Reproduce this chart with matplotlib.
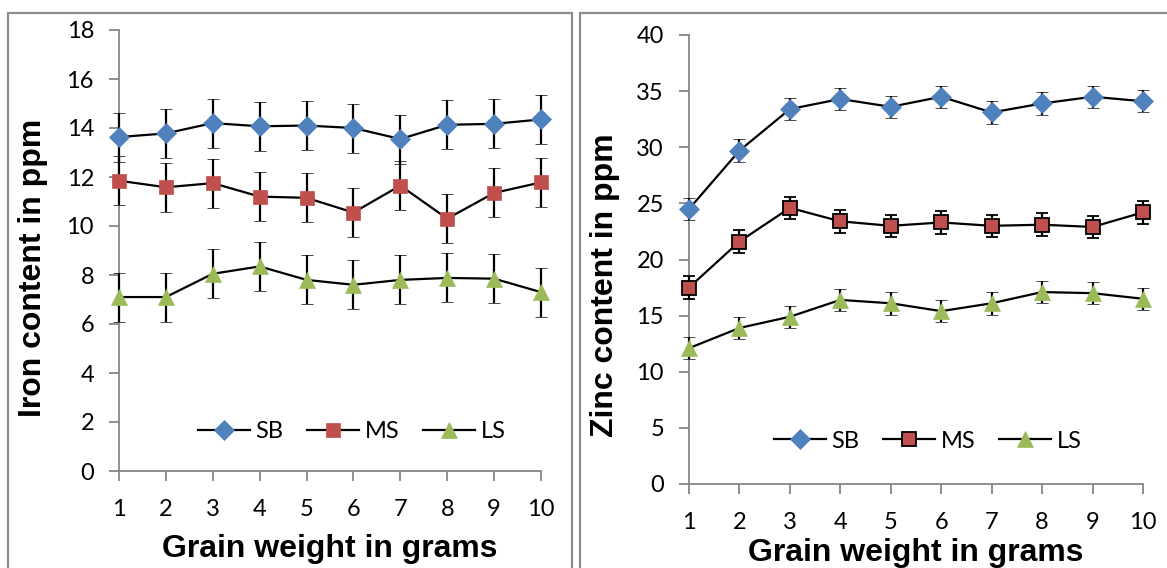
import numpy as np
import matplotlib.pyplot as plt
from matplotlib.patches import Rectangle
from matplotlib.lines import Line2D

# Data
grain_weight = [1, 2, 3, 4, 5, 6, 7, 8, 9, 10]

iron_sb = [13.63, 13.78, 14.2, 14.07, 14.1, 14.0, 13.55, 14.13, 14.17, 14.35]
iron_ms = [11.85, 11.58, 11.75, 11.2, 11.15, 10.55, 11.65, 10.3, 11.35, 11.78]
iron_ls = [7.1, 7.1, 8.05, 8.35, 7.8, 7.6, 7.8, 7.88, 7.85, 7.3]
iron_err = 1.0

zinc_sb = [24.5, 29.7, 33.4, 34.3, 33.6, 34.5, 33.1, 33.9, 34.5, 34.1]
zinc_ms = [17.5, 21.6, 24.6, 23.4, 23.0, 23.3, 23.0, 23.1, 22.9, 24.2]
zinc_ls = [12.1, 13.9, 14.9, 16.4, 16.1, 15.4, 16.1, 17.1, 17.0, 16.5]
zinc_err = 1.0

labels = ["SB", "MS", "LS"]
colors = ["#4F81BD", "#C0504D", "#9BBB59"]
markers = ["D", "s", "^"]
msizes = [10, 10, 11]

W, H = 1167, 568
fig = plt.figure(figsize=(W / 100, H / 100), dpi=100)
tick_font = "Lato"
label_font = "Liberation Sans"
axis_gray = "#868686"

# panel frames
fig.add_artist(Rectangle((8 / W, -0.01), 564 / W, 1 - 13 / H + 0.01, transform=fig.transFigure,
                         fill=False, edgecolor="#8c8c8c", linewidth=1.6))
fig.add_artist(Rectangle((580 / W, -0.01), 600 / W, 1 - 13 / H + 0.01, transform=fig.transFigure,
                         fill=False, edgecolor="#8c8c8c", linewidth=1.6))


def px_axes(x0, x1, y0, y1):
    return fig.add_axes([x0 / W, 1 - y1 / H, (x1 - x0) / W, (y1 - y0) / H])


def draw(ax, series, err, ylim, step, ylabel, edge_ms, legend_xy, ylab_xy, xlab_y):
    handles = []
    for i, vals in enumerate(series):
        ec = "black" if (edge_ms and i == 1) else colors[i]
        ew = 1.3 if ec == "black" else 0.5
        ax.errorbar(grain_weight, vals, yerr=err, color="black", linewidth=1.6,
                    marker=markers[i], markersize=msizes[i], markerfacecolor=colors[i],
                    markeredgecolor=ec, markeredgewidth=ew,
                    ecolor="black", elinewidth=1.6, capsize=4, capthick=1.6,
                    clip_on=False, zorder=3)
        handles.append(Line2D([], [], color="black", linewidth=1.6, marker=markers[i],
                              markersize=msizes[i], markerfacecolor=colors[i],
                              markeredgecolor=ec, markeredgewidth=ew, label=labels[i]))
    ax.set_xlim(1, 10)
    ax.set_ylim(*ylim)
    ax.set_xticks(grain_weight)
    ax.set_yticks(np.arange(ylim[0], ylim[1] + step / 2, step))
    for s in ["top", "right"]:
        ax.spines[s].set_visible(False)
    for s in ["left", "bottom"]:
        ax.spines[s].set_color(axis_gray)
        ax.spines[s].set_linewidth(1.3)
    ax.tick_params(direction="out", length=7, width=1.3, color=axis_gray, labelsize=17)
    ax.tick_params(axis="x", pad=13)
    ax.tick_params(axis="y", pad=11)
    for t in ax.get_xticklabels() + ax.get_yticklabels():
        t.set_fontfamily(tick_font)
    ax.set_xlabel("Grain weight in grams", fontsize=23, fontweight="bold", fontfamily=label_font)
    ax.set_ylabel(ylabel, fontsize=23, fontweight="bold", fontfamily=label_font)
    ax.yaxis.set_label_coords(*ylab_xy)
    ax.xaxis.set_label_coords(0.5, xlab_y)
    fig.legend(handles=handles, loc="center", bbox_to_anchor=legend_xy,
               bbox_transform=fig.transFigure, ncol=3, frameon=False,
               handlelength=2.2, columnspacing=1.0, handletextpad=0.25,
               prop={"family": tick_font, "size": 17})


ax1 = px_axes(119, 541, 30, 471)
draw(ax1, [iron_sb, iron_ms, iron_ls], iron_err, (0, 18), 2, "Iron content in ppm",
     False, (352 / W, 1 - 432 / H), (-0.168, 0.46), -0.142)

ax2 = px_axes(689, 1143, 35, 484)
draw(ax2, [zinc_sb, zinc_ms, zinc_ls], zinc_err, (0, 40), 5, "Zinc content in ppm",
     True, (928 / W, 1 - 441 / H), (-0.153, 0.443), -0.12)

fig.savefig("out.png", dpi=100)
